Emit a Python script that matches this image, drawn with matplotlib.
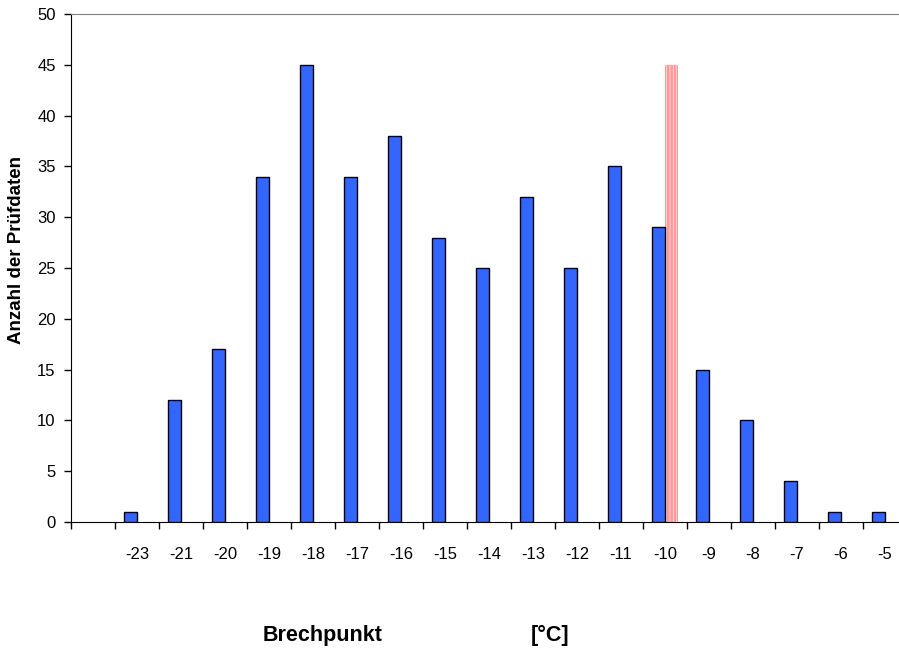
import matplotlib
matplotlib.use("Agg")
import matplotlib.pyplot as plt
import numpy as np

plt.rcParams['font.family'] = ['Liberation Sans', 'DejaVu Sans']
plt.rcParams['hatch.linewidth'] = 2.0

categories = ['', '-23', '-21', '-20', '-19', '-18', '-17', '-16', '-15', '-14',
              '-13', '-12', '-11', '-10', '-9', '-8', '-7', '-6', '-5']
counts = [np.nan, 1, 12, 17, 34, 45, 34, 38, 28, 25, 32, 25, 35, 29, 15, 10, 4, 1, 1]
marker_series = [np.nan] * 13 + [45] + [np.nan] * 5

fig = plt.figure(figsize=(8.99, 6.5), dpi=100)
ax = fig.add_axes([71/899, 1-522/650, (907-71)/899, (522-14)/650])

x = np.arange(len(categories)) + 0.5
w = 0.29
ax.bar(x - w/2, counts, width=w, color='#3366FF', edgecolor='black', linewidth=1.0, zorder=3)
reds = ax.bar(x + w/2, marker_series, width=w, color='white', edgecolor='#FF9999',
              hatch='|||||', linewidth=0, zorder=2)
for p in reds.patches:
    try:
        p.set_hatch_linewidth(2.0)
    except AttributeError:
        pass

ax.set_xlim(0, len(categories))
ax.set_ylim(0, 50)
ax.set_yticks(np.arange(0, 51, 5))
ax.set_xticks(np.arange(0, len(categories) + 1))
ax.set_xticklabels([])
ax.set_xticks(x, minor=True)
ax.set_xticklabels(categories, minor=True)
ax.tick_params(axis='x', which='major', direction='out', length=5, width=1)
ax.tick_params(axis='x', which='minor', length=0, pad=18, labelsize=12)
ax.tick_params(axis='y', direction='out', length=5, width=1, labelsize=12, pad=6)

ax.spines['right'].set_visible(False)
ax.spines['top'].set_color('#808080')
ax.spines['left'].set_color('black')
ax.spines['bottom'].set_color('black')

fig.text(17/899, 1-250/650, 'Anzahl der Prüfdaten', rotation=90, ha='center', va='center',
         fontsize=13.5, fontweight='bold')
fig.text(323/899, 1-635/650, 'Brechpunkt', ha='center', va='center', fontsize=15.5, fontweight='bold')
fig.text(550/899, 1-635/650, '[°C]', ha='center', va='center', fontsize=15.5, fontweight='bold')

fig.savefig('out.png', dpi=100)
